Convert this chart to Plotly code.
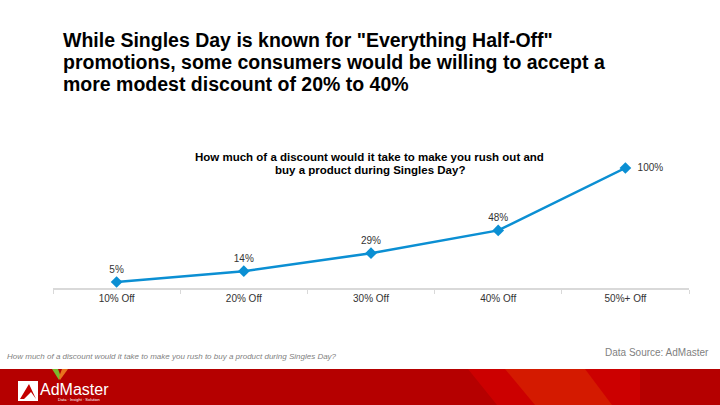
import plotly.graph_objects as go

W, H = 720, 405

categories = ["10% Off", "20% Off", "30% Off", "40% Off", "50%+ Off"]
values = [5, 14, 29, 48, 100]
value_labels = ["5%", "14%", "29%", "48%", "100%"]
label_positions = ["top center", "top center", "top center", "top center", "middle right"]

main_title_lines = ["While Singles Day is known for \"Everything Half-Off\"",
                    "promotions, some consumers would be willing to accept a",
                    "more modest discount of 20% to 40%"]
chart_title_lines = ["How much of a discount would it take to make you rush out and",
                     "buy a product during Singles Day?"]
footnote = "How much of a discount would it take to make you rush to buy a product during Singles Day?"
source = "Data Source: AdMaster"

FONT = "Liberation Sans, Arial, Helvetica, sans-serif"


def px(x):
    return x / W


def py(y):
    return 1 - y / H


fig = go.Figure()
fig.add_trace(go.Scatter(
    x=categories, y=values,
    mode="lines+markers+text",
    line=dict(color="#0b8fd3", width=2.5),
    marker=dict(symbol="diamond", size=9, color="#0b8fd3"),
    text=["  " + t if p == "middle right" else t for t, p in zip(value_labels, label_positions)],
    textposition=label_positions,
    textfont=dict(family=FONT, size=10, color="#333333"),
    cliponaxis=False,
    hoverinfo="skip",
))

shapes = []
# red footer band
shapes.append(dict(type="rect", xref="paper", yref="paper", x0=0, x1=1, y0=0, y1=py(369),
                   fillcolor="#b50000", line=dict(width=0), layer="below"))
# swoosh areas
shapes.append(dict(type="path", xref="paper", yref="paper",
                   path=f"M {px(468)},{py(369)} L {px(640)},{py(369)} L {px(640)},{py(405)} L {px(497)},{py(405)} Z",
                   fillcolor="#cc0000", line=dict(width=0), layer="below"))
shapes.append(dict(type="path", xref="paper", yref="paper",
                   path=f"M {px(505)},{py(369)} L {px(585)},{py(369)} L {px(612)},{py(405)} L {px(535)},{py(405)} Z",
                   fillcolor="#d41a00", line=dict(width=0), layer="below"))
# logo icon
shapes.append(dict(type="rect", xref="paper", yref="paper", x0=px(18), x1=px(38), y0=py(401), y1=py(381),
                   fillcolor="#ffffff", line=dict(width=0)))
shapes.append(dict(type="path", xref="paper", yref="paper",
                   path=f"M {px(20)},{py(399)} L {px(29)},{py(384)} L {px(36)},{py(399)} L {px(31)},{py(392)} L {px(24)},{py(399)} Z",
                   fillcolor="#c40000", line=dict(width=0)))
# logo V mark
shapes.append(dict(type="path", xref="paper", yref="paper",
                   path=f"M {px(52)},{py(369)} L {px(58)},{py(369)} L {px(61)},{py(377)} L {px(59)},{py(380)} Z",
                   fillcolor="#7cb82f", line=dict(width=0)))
shapes.append(dict(type="path", xref="paper", yref="paper",
                   path=f"M {px(62)},{py(369)} L {px(68)},{py(369)} L {px(60)},{py(380)} L {px(59)},{py(377)} Z",
                   fillcolor="#e8731d", line=dict(width=0)))

annotations = []
for i, line in enumerate(main_title_lines):
    annotations.append(dict(text="<b>" + line + "</b>", x=px(61), y=py(40 + 22 * i),
                            xref="paper", yref="paper", xanchor="left", yanchor="middle",
                            showarrow=False, font=dict(family=FONT, size=19.5, color="#000000")))
for i, line in enumerate(chart_title_lines):
    annotations.append(dict(text="<b>" + line + "</b>", x=px(370), y=py(157 + 13 * i),
                            xref="paper", yref="paper", xanchor="center", yanchor="middle",
                            showarrow=False, font=dict(family=FONT, size=11.5, color="#000000")))
annotations += [
    dict(text="<i>" + footnote + "</i>", x=px(5), y=py(356), xref="paper", yref="paper",
         xanchor="left", yanchor="middle", align="left", showarrow=False,
         font=dict(family=FONT, size=8, color="#7f7f7f")),
    dict(text=source, x=px(711), y=py(352), xref="paper", yref="paper",
         xanchor="right", yanchor="middle", showarrow=False,
         font=dict(family=FONT, size=10, color="#7f7f7f")),
    dict(text="AdMaster", x=px(38), y=py(389), xref="paper", yref="paper",
         xanchor="left", yanchor="middle", showarrow=False,
         font=dict(family=FONT, size=16, color="#ffffff")),
    dict(text="Data · Insight · Solution", x=px(56), y=py(399.5), xref="paper", yref="paper",
         xanchor="left", yanchor="middle", showarrow=False,
         font=dict(family=FONT, size=4, color="#ffffff")),
]

fig.update_layout(
    width=W, height=H,
    margin=dict(l=0, r=0, t=0, b=0),
    paper_bgcolor="#ffffff", plot_bgcolor="#ffffff",
    showlegend=False,
    shapes=shapes,
    annotations=annotations,
    xaxis=dict(domain=[px(53), px(689)], type="category", range=[-0.5, 4.5],
               showgrid=False, zeroline=False,
               showline=True, linecolor="#d9d9d9", linewidth=2,
               ticks="outside", tickson="boundaries", ticklen=4, tickcolor="#d9d9d9",
               tickfont=dict(family=FONT, size=10, color="#333333"),
               fixedrange=True),
    yaxis=dict(domain=[py(288), py(168)], range=[0, 100], visible=False, fixedrange=True),
)

fig.write_html("out.html", config={"displayModeBar": False},
               post_script="document.body.style.margin='0px';")
